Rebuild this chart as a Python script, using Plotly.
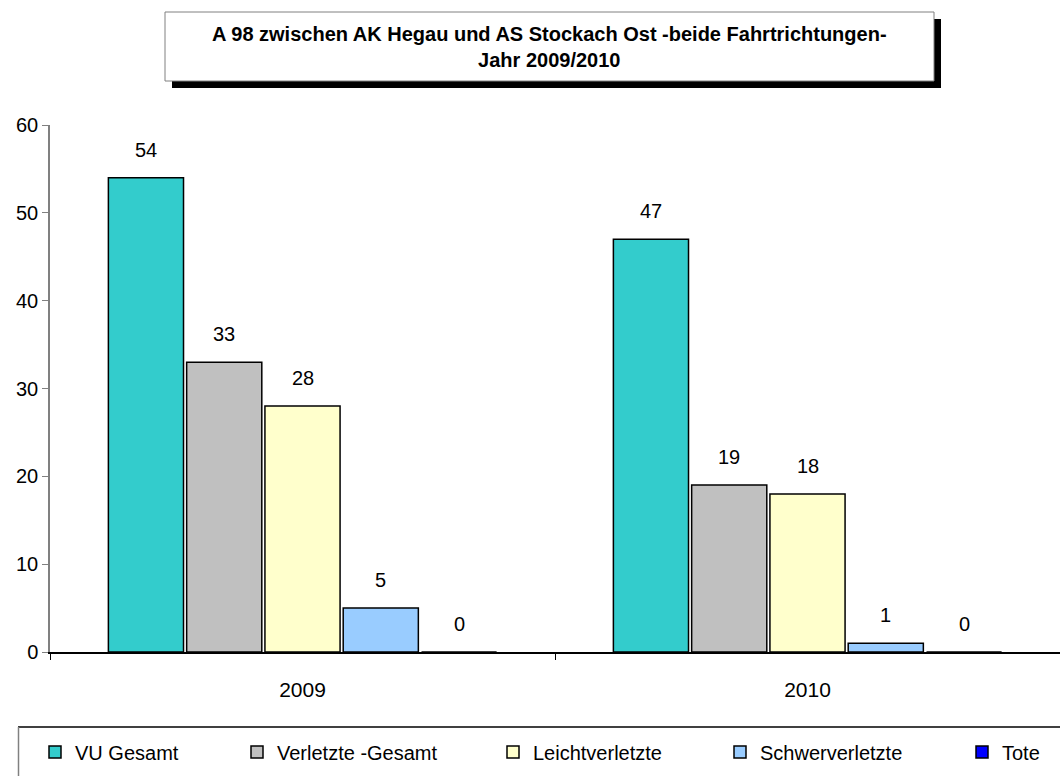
import plotly.graph_objects as go

# Accident statistics, A 98 between AK Hegau and AS Stockach Ost
years = ["2009", "2010"]
series_names = ["VU Gesamt", "Verletzte -Gesamt", "Leichtverletzte", "Schwerverletzte", "Tote"]
vu_gesamt = [54, 47]
verletzte_gesamt = [33, 19]
leichtverletzte = [28, 18]
schwerverletzte = [5, 1]
tote = [0, 0]
series_values = [vu_gesamt, verletzte_gesamt, leichtverletzte, schwerverletzte, tote]
series_colors = ["#33CCCC", "#C0C0C0", "#FFFFCC", "#99CCFF", "#0000FF"]

W, H = 1060, 776
ML, MR, MT, MB = 50, 0, 125, 124
PW, PH = W - ML - MR, H - MT - MB
BARGAP, GROUPGAP = 0.225, 0.04

# left edges of the legend entries along the bottom strip
legend_left = [53, 255, 511, 738, 980]


def px(x):
    return (x - ML) / PW


def py(y):
    return (H - MB - y) / PH


FONT = "Liberation Sans, Arial, sans-serif"

fig = go.Figure()
legend_layouts = {}
for i, (name, vals, col) in enumerate(zip(series_names, series_values, series_colors)):
    lg = "legend" if i == 0 else f"legend{i + 1}"
    fig.add_trace(go.Bar(
        name=name, x=years, y=vals, legend=lg,
        marker=dict(color=col, line=dict(color="black", width=1.5)),
    ))
    legend_layouts[lg] = dict(
        orientation="h", xref="container", yref="container",
        x=(legend_left[i] - 18) / W, y=1 - 752 / H,
        xanchor="left", yanchor="middle",
        font=dict(family=FONT, size=20, color="black"),
        bgcolor="rgba(0,0,0,0)",
    )

# value labels above each bar, centred on the bar slot of its series
slot_px = (PW / len(years)) * (1 - BARGAP) / len(series_names)
annotations = []
for i, vals in enumerate(series_values):
    shift = (i - (len(series_names) - 1) / 2) * slot_px
    for k, v in enumerate(vals):
        annotations.append(dict(
            xref="x", yref="y", x=k, y=v, xshift=shift, yshift=28,
            text=str(v), showarrow=False, yanchor="middle",
            font=dict(family=FONT, size=20, color="black"),
        ))

annotations.append(dict(
    xref="paper", yref="paper", x=px(549.5), y=py(47),
    xanchor="center", yanchor="middle",
    text="A 98 zwischen AK Hegau und AS Stockach Ost -beide Fahrtrichtungen-<br>Jahr 2009/2010",
    showarrow=False, align="center",
    font=dict(family=FONT, size=20, color="black", weight="bold"),
))

shapes = [
    # title box shadow and frame
    dict(type="rect", xref="paper", yref="paper", layer="above",
         x0=px(172), x1=px(941), y0=py(19), y1=py(88),
         fillcolor="black", line=dict(width=0)),
    dict(type="rect", xref="paper", yref="paper", layer="above",
         x0=px(165), x1=px(934), y0=py(12), y1=py(81),
         fillcolor="white", line=dict(color="#808080", width=1)),
    # legend frame (top and left edges)
    dict(type="line", xref="paper", yref="paper", layer="above",
         x0=px(18), x1=px(1060), y0=py(727), y1=py(727),
         line=dict(color="black", width=1.5)),
    dict(type="line", xref="paper", yref="paper", layer="above",
         x0=px(18.5), x1=px(18.5), y0=py(727), y1=py(776),
         line=dict(color="#808080", width=1.5)),
]

fig.update_layout(
    width=W, height=H,
    margin=dict(l=ML, r=MR, t=MT, b=MB),
    paper_bgcolor="white", plot_bgcolor="white",
    barmode="group", bargap=BARGAP, bargroupgap=GROUPGAP,
    shapes=shapes, annotations=annotations,
    font=dict(family=FONT, size=20, color="black"),
    showlegend=True,
    xaxis=dict(
        type="category", range=[-0.5, len(years) - 0.5],
        showgrid=False, showline=True,
        linecolor="black", linewidth=1.5,
        ticks="outside", tickson="boundaries", ticklen=6, tickcolor="black",
        ticklabelstandoff=18,
        tickfont=dict(family=FONT, size=21, color="black"),
    ),
    yaxis=dict(
        range=[0, 60], tickvals=[0, 10, 20, 30, 40, 50, 60],
        showgrid=False, showline=True, linecolor="#808080", linewidth=1.5,
        ticks="outside", ticklen=6, tickcolor="#808080",
        tickfont=dict(family=FONT, size=20, color="black"),
        zeroline=False,
    ),
    **legend_layouts,
)

fig.write_html("out.html")
